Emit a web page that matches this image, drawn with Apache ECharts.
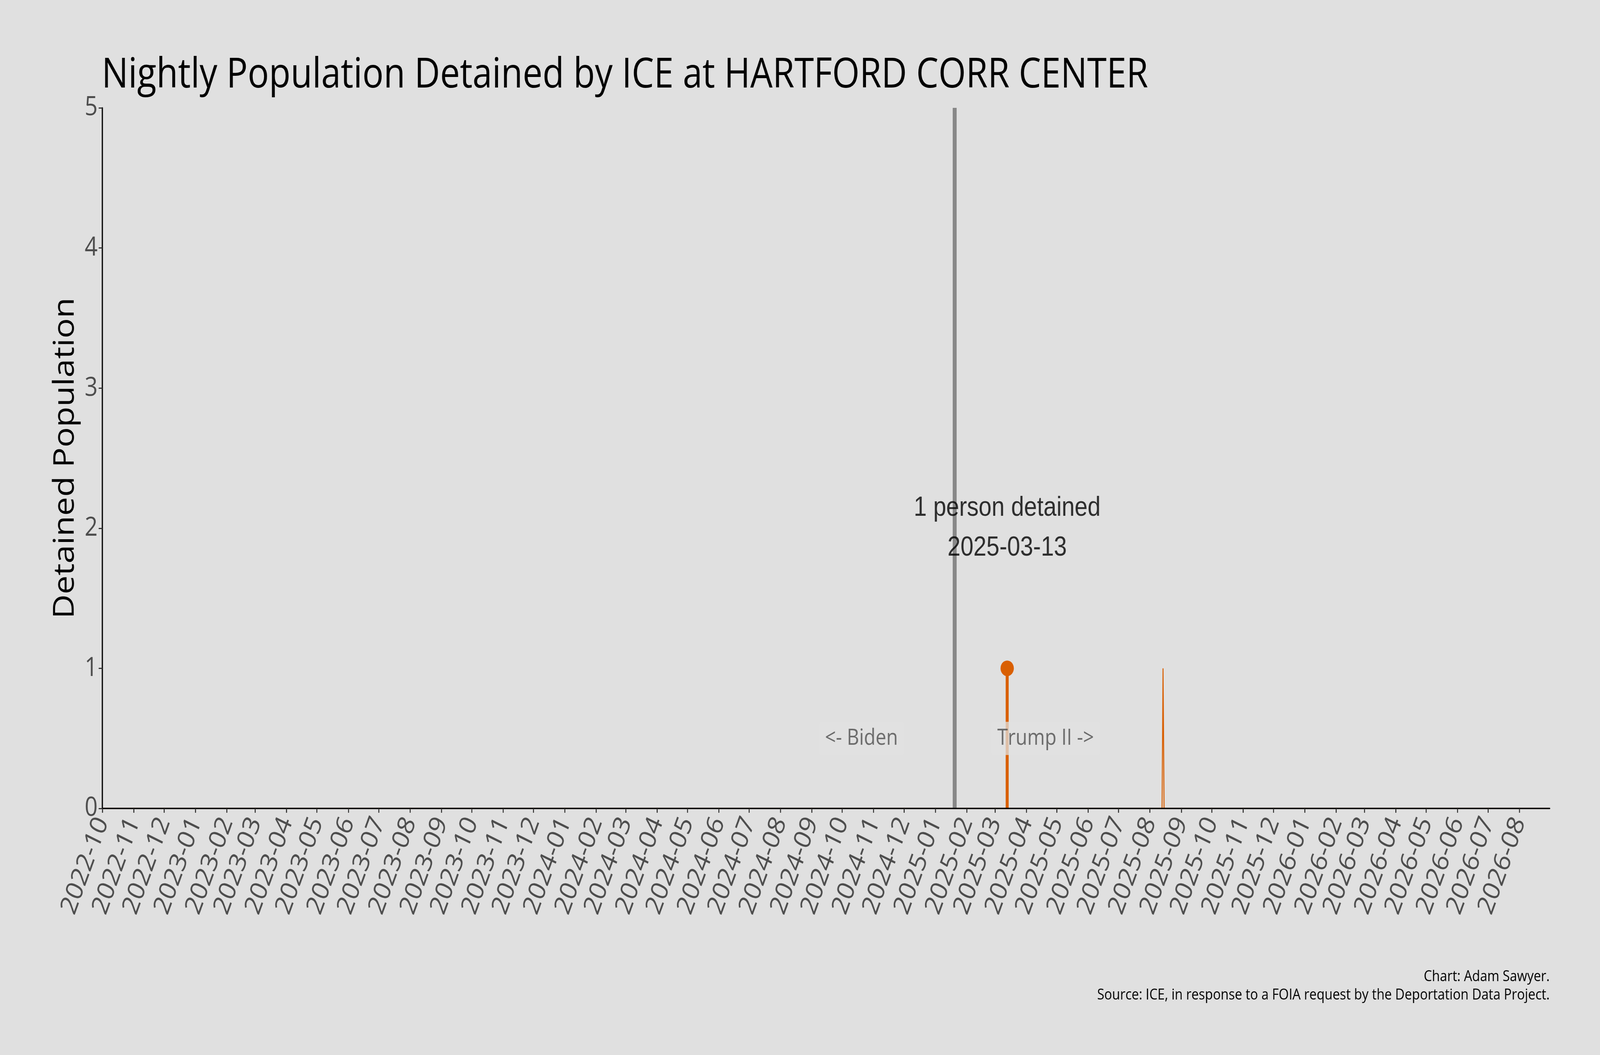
<!DOCTYPE html>
<html>
<head>
<meta charset="utf-8">
<title>Nightly Population Detained by ICE at HARTFORD CORR CENTER</title>
<script src="https://cdn.jsdelivr.net/npm/echarts@6/dist/echarts.min.js"></script>
<style>
  html, body { margin: 0; padding: 0; background: #e0e0e0; overflow: hidden; }
  #container { width: 4800px; height: 2700px; transform-origin: 0 0; }
</style>
</head>
<body>
<div id="container"></div>
<script>
// nightly counts: only the days where the value changes are listed
var nightDates = ['2022-10-01', '2025-03-12', '2025-03-13', '2025-03-14', '2025-08-13', '2025-08-14', '2025-08-15', '2026-08-31'];
var nightCounts = [0, 0, 1, 0, 0, 1, 0, 0];

var peakDate = '2025-03-13';
var peakValue = 1;
var peakLabelY = 2;
var inaugurationDate = '2025-01-20';
var eraLabels = ['<- Biden', 'Trump II ->'];
var eraLabelDates = ['2024-10-20', '2025-04-20'];
var eraLabelY = 0.5;

var xMin = '2022-10-01';
var xMax = '2026-08-31';
var yTicks = [0, 1, 2, 3, 4, 5];

var orange = '#d95f02';
var sansUI = '"Open Sans", "Noto Sans", sans-serif';
var sansArial = '"Liberation Sans", Arial, sans-serif';
var DAY = 24 * 3600 * 1000;

// the chart is laid out at 4800x2700 and fitted to the window
var box = document.getElementById('container');
box.style.transform = 'scale(' + (window.innerWidth / 4800) + ',' + (window.innerHeight / 2700) + ')';

var lineData = nightDates.map(function (d, i) { return [d, nightCounts[i]]; });

var eraLabel = function (text) {
  return {
    show: true, position: 'inside', formatter: text,
    fontFamily: sansUI, fontSize: 57, color: '#4d4d4d',
    backgroundColor: 'rgba(226,226,226,0.93)', borderRadius: 6, padding: [14, 18]
  };
};

var myChart = echarts.init(box);
var option = {
  backgroundColor: '#e0e0e0',
  animation: false,
  title: {
    text: 'Nightly Population Detained by ICE at HARTFORD CORR CENTER',
    left: 300,
    top: 136,
    textStyle: { fontFamily: sansUI, fontSize: 106, fontWeight: 'normal', color: '#000' }
  },
  grid: { left: 307, right: 151, top: 276, bottom: 631, containLabel: false },
  xAxis: {
    type: 'time',
    min: xMin,
    max: xMax,
    z: 10,
    minInterval: 28 * DAY,
    maxInterval: 31 * DAY,
    splitNumber: 47,
    axisLine: { lineStyle: { color: '#000', width: 3.5 } },
    axisTick: { show: true, length: 11, lineStyle: { color: '#333', width: 3 } },
    splitLine: { show: false },
    axisLabel: {
      rotate: 67,
      margin: 26,
      fontFamily: sansUI,
      fontSize: 70,
      color: '#4d4d4d',
      formatter: function (v) { return echarts.time.format(v, '{yyyy}-{MM}', false); }
    }
  },
  yAxis: {
    type: 'value',
    min: yTicks[0],
    max: yTicks[yTicks.length - 1],
    interval: 1,
    z: 10,
    name: 'Detained Population',
    nameLocation: 'middle',
    nameGap: 68,
    nameTextStyle: { fontFamily: sansUI, fontSize: 86, color: '#000' },
    axisLine: { show: true, lineStyle: { color: '#000', width: 3.5 } },
    axisTick: { show: true, length: 11, lineStyle: { color: '#333', width: 3 } },
    splitLine: { show: false },
    axisLabel: { margin: 14, fontFamily: sansUI, fontSize: 68, color: '#4d4d4d' }
  },
  series: [
    {
      name: 'Detained',
      type: 'line',
      data: lineData,
      showSymbol: false,
      z: 2,
      lineStyle: { color: orange, width: 3 },
      markLine: {
        silent: true,
        symbol: 'none',
        label: { show: false },
        lineStyle: { color: '#888888', width: 12, type: 'solid' },
        data: [{ xAxis: inaugurationDate }]
      }
    },
    {
      name: 'Peak',
      type: 'line',
      z: 3,
      data: [
        { value: [peakDate, 0], symbol: 'none' },
        { value: [peakDate, peakValue], symbol: 'circle', symbolSize: 40 }
      ],
      showAllSymbol: true,
      itemStyle: { color: orange },
      lineStyle: { color: orange, width: 9 }
    },
    {
      name: 'Notes',
      type: 'scatter',
      z: 5,
      symbolSize: 0,
      silent: true,
      data: [
        {
          value: [peakDate, peakLabelY],
          label: {
            show: true, position: 'inside',
            formatter: peakValue + ' person detained\n' + peakDate,
            fontFamily: sansArial, fontSize: 70, lineHeight: 102, color: '#000'
          }
        },
        { value: [eraLabelDates[0], eraLabelY], label: eraLabel(eraLabels[0]) },
        { value: [eraLabelDates[1], eraLabelY], label: eraLabel(eraLabels[1]) }
      ]
    }
  ],
  graphic: [
    {
      type: 'text', right: 151, top: 2480,
      style: { text: 'Chart: Adam Sawyer.', fontFamily: sansUI, fontSize: 39, fill: '#000', textAlign: 'right' }
    },
    {
      type: 'text', right: 151, top: 2527,
      style: { text: 'Source: ICE, in response to a FOIA request by the Deportation Data Project.', fontFamily: sansUI, fontSize: 39, fill: '#000', textAlign: 'right' }
    }
  ]
};
myChart.setOption(option);
</script>
</body>
</html>
